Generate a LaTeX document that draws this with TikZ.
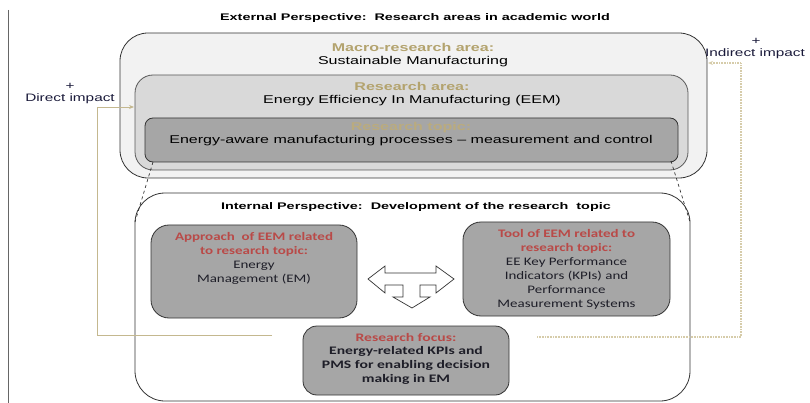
\documentclass[tikz,border=0pt]{standalone}
\usepackage{fontspec}
\usetikzlibrary{arrows.meta}
\setmainfont{Liberation Sans}
\newfontfamily\arS[FakeStretch=1.42]{Liberation Sans}
\newfontfamily\arT[FakeStretch=1.5]{Liberation Sans}
\newfontfamily\caS[FakeStretch=1.3]{Carlito}
\newfontfamily\caB[FakeStretch=1.36]{Carlito}
\definecolor{khaki}{HTML}{B3A36E}
\definecolor{khakiL}{HTML}{BAAB7E}
\definecolor{redl}{HTML}{B94A48}
\definecolor{conn}{HTML}{C4B88F}
\definecolor{connL}{HTML}{D6CCAA}
\definecolor{boxA}{HTML}{F2F2F2}
\definecolor{boxB}{HTML}{D9D9D9}
\definecolor{boxC}{HTML}{A6A6A6}
\definecolor{ink}{HTML}{1E1E28}
\definecolor{navy}{HTML}{1A1A3A}
\begin{document}
\begin{tikzpicture}[x=1pt,y=-1pt,
  box/.style={draw=black!80, line width=0.8pt, rounded corners=#1, inner sep=0pt},
  toptxt/.style={align=center, inner sep=0pt, font=\arS\fontsize{11.3}{13}\selectfont},
  lowtxt/.style={align=center, inner sep=0pt, text=ink, font=\caS\fontsize{11.5}{14}\selectfont},
  headtxt/.style={inner sep=0pt, font=\arT\bfseries\fontsize{9.6}{10}\selectfont},
  sidetxt/.style={align=center, inner sep=0pt, text=navy, font=\arS\fontsize{10.8}{13}\selectfont},
  conline/.style={draw=conn, line width=0.9pt},
  tip/.style={-{Stealth[length=5pt,width=4pt]}}]
\useasboundingbox (0,0) rectangle (810,403);
% left border line
\coordinate (b1) at (8,10);
\coordinate (b2) at (8,403);
\draw[black!60, line width=0.7pt] (b1) -- (b2);
% external perspective
\node[headtxt] (title) at (415,18) {External Perspective:\ \ Research areas in academic world};
\node[box=28pt, fill=boxA, minimum width=587pt, minimum height=145pt] (macro) at (413.5,105.5) {};
\node[box=18pt, fill=boxB, draw=black!65, minimum width=553pt, minimum height=95pt] (ra) at (411.5,122.5) {};
\node[box=8pt, fill=boxC, minimum width=533pt, minimum height=44pt] (rt) at (411.5,140) {};
\node[toptxt] (macrotxt) at (413,55.5) {\textcolor{khaki}{\bfseries Macro-research area:}\\Sustainable Manufacturing};
\node[toptxt] (ratxt) at (412,94) {\textcolor{khaki}{\bfseries Research area:}\\Energy Efficiency In Manufacturing (EEM)};
\node[toptxt] (rttxt) at (411,134.5) {\textcolor{khakiL}{\bfseries Research topic:}\\Energy-aware manufacturing processes \textendash{} measurement and control};
% internal perspective
\node[box=30pt, fill=white, minimum width=555pt, minimum height=208pt] (ip) at (412.5,297) {};
\node[headtxt] (iptitle) at (416,207) {Internal Perspective:\ \ Development of the research\ \ topic};
\coordinate (dl1) at (153,162);
\coordinate (dl2) at (135,222);
\coordinate (dr1) at (671,161);
\coordinate (dr2) at (690,222);
\draw[dashed, black!80, line width=0.7pt] (dl1) -- (dl2);
\draw[dashed, black!80, line width=0.7pt] (dr1) -- (dr2);
\node[box=18pt, fill=boxC, minimum width=206pt, minimum height=93pt] (appr) at (254,271.5) {};
\node[box=18pt, fill=boxC, minimum width=207pt, minimum height=94pt] (tool) at (566.5,269) {};
\node[box=14pt, fill=boxC, minimum width=206pt, minimum height=69pt] (focus) at (406,360.5) {};
\node[lowtxt] (apprtxt) at (254,258.5) {\textcolor{redl}{\bfseries Approach\ \ of EEM related}\\\textcolor{redl}{\bfseries to research topic:}\\Energy\\Management (EM)};
\node[lowtxt] (tooltxt) at (566.5,269) {\textcolor{redl}{\bfseries Tool of EEM related to}\\\textcolor{redl}{\bfseries research topic:}\\EE Key Performance\\Indicators (KPIs) and\\Performance\\Measurement Systems};
\node[lowtxt, font=\caB\bfseries\fontsize{11.5}{13.7}\selectfont] (focustxt) at (406,358.5) {\textcolor{redl}{Research focus:}\\Energy-related KPIs and\\PMS for enabling decision\\making in EM};
% T arrow
\draw[fill=white, draw=black!80, line width=0.7pt] (368,279) -- (385,266) -- (385,273) -- (436,273) -- (436,266) -- (454,279) -- (436,293) -- (436,285) -- (420,285) -- (420,297) -- (430,297) -- (412,308) -- (393,297) -- (403,297) -- (403,285) -- (385,285) -- (385,293) -- cycle;
% impacts
\node[sidetxt] (dplus) at (70,86) {+};
\node[sidetxt] (dimp) at (70,99) {Direct impact};
\node[sidetxt] (iplus) at (756,41) {+};
\node[sidetxt] (iimp) at (755,54) {Indirect impact};
\coordinate (d0) at (272,335);
\coordinate (d1) at (97,335);
\coordinate (d2) at (97,107);
\coordinate (d3) at (134,107);
\draw[conline, tip] (d0) -- (d1) -- (d2) -- (d3);
\coordinate (i0) at (537,337);
\coordinate (i1) at (741,337);
\coordinate (i2) at (741,63);
\coordinate (i3) at (708,63);
\draw[draw=connL, line width=1.4pt, dash pattern=on 0.8pt off 0.8pt, -{Stealth[length=5pt,width=4pt]}] (i0) -- (i1) -- (i2) -- (i3);
\end{tikzpicture}
\end{document}
